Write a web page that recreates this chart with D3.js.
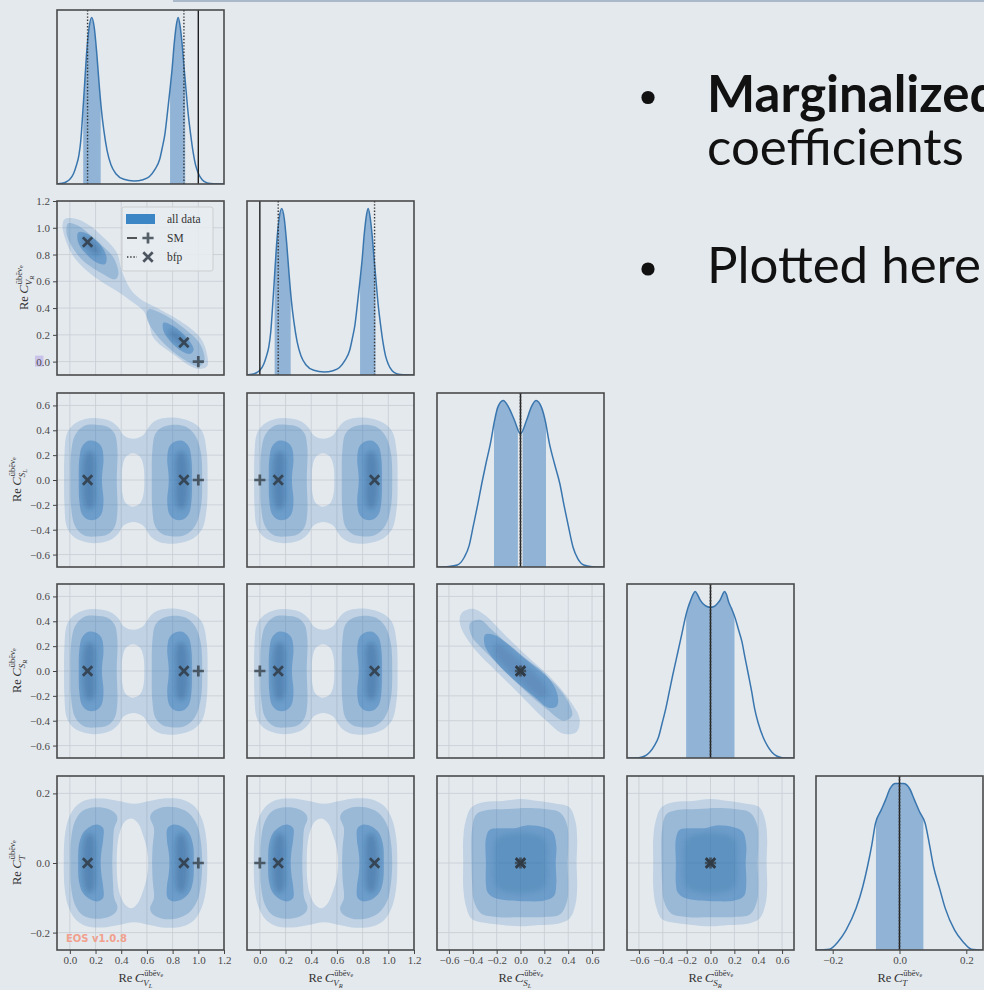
<!DOCTYPE html>
<html><head><meta charset="utf-8">
<script src="https://cdn.jsdelivr.net/npm/d3@7"></script>
<style>
html,body{margin:0;padding:0;background:#e4e9ee;}
svg{display:block;}
</style></head><body>
<svg id="fig" width="984" height="990"></svg>
<script>
// ---- parameters of the corner plot ----
const paramSubs = [["V","L"],["V","R"],["S","L"],["S","R"],["T",""]];
const paramDomains = [[-0.1,1.2],[-0.1,1.2],[-0.7,0.7],[-0.7,0.7],[-0.25,0.25]];
const vTicks = [0,0.2,0.4,0.6,0.8,1.0,1.2];
const sTicks = [-0.6,-0.4,-0.2,0,0.2,0.4,0.6];
const tTicks = [-0.2,0,0.2];
const paramTicks = [vTicks,vTicks,sTicks,sTicks,tTicks];
const smPoint = [1.0,0.0,0.0,0.0,0.0];
const bfpPoints = [[0.138,0.893,0,0,0],[0.888,0.143,0,0,0]];

// ---- 1D marginal densities (x, relative density) ----
const densityVL = [[-0.10,0],[-0.06,0.004],[-0.03,0.012],[0.00,0.028],[0.03,0.065],[0.05,0.11],[0.07,0.17],[0.085,0.26],[0.10,0.42],[0.115,0.6],[0.13,0.78],[0.15,0.94],[0.17,1.0],[0.19,0.94],[0.21,0.78],[0.228,0.6],[0.245,0.45],[0.265,0.32],[0.29,0.2],[0.32,0.115],[0.36,0.06],[0.42,0.028],[0.50,0.018],[0.57,0.026],[0.62,0.045],[0.66,0.085],[0.70,0.15],[0.72,0.22],[0.74,0.30],[0.76,0.43],[0.78,0.57],[0.797,0.70],[0.812,0.84],[0.828,0.95],[0.843,1.0],[0.858,0.95],[0.874,0.84],[0.889,0.70],[0.905,0.56],[0.92,0.43],[0.94,0.30],[0.96,0.19],[0.98,0.11],[1.00,0.065],[1.03,0.025],[1.07,0.006],[1.12,0.001],[1.2,0]];
const densityVR = [[-0.10,0],[-0.06,0.004],[-0.03,0.012],[0.00,0.028],[0.03,0.065],[0.05,0.11],[0.07,0.17],[0.085,0.26],[0.10,0.42],[0.115,0.6],[0.13,0.78],[0.15,0.94],[0.17,1.0],[0.19,0.94],[0.21,0.78],[0.228,0.6],[0.245,0.45],[0.265,0.32],[0.29,0.2],[0.32,0.115],[0.36,0.06],[0.42,0.028],[0.50,0.018],[0.57,0.026],[0.62,0.045],[0.66,0.085],[0.70,0.15],[0.72,0.22],[0.74,0.30],[0.76,0.43],[0.78,0.57],[0.797,0.70],[0.812,0.84],[0.828,0.95],[0.843,1.0],[0.858,0.95],[0.874,0.84],[0.889,0.70],[0.905,0.56],[0.92,0.43],[0.94,0.30],[0.96,0.19],[0.98,0.11],[1.00,0.065],[1.03,0.025],[1.07,0.006],[1.12,0.001],[1.2,0]];
const densitySL = [[-0.7,0],[-0.6,0.003],[-0.53,0.012],[-0.47,0.06],[-0.43,0.13],[-0.395,0.25],[-0.36,0.37],[-0.325,0.5],[-0.29,0.62],[-0.25,0.75],[-0.22,0.87],[-0.19,0.96],[-0.145,1.0],[-0.1,0.96],[-0.05,0.88],[0,0.80],[0.05,0.88],[0.09,0.96],[0.13,1.0],[0.175,0.96],[0.21,0.87],[0.24,0.75],[0.285,0.62],[0.33,0.5],[0.365,0.37],[0.40,0.25],[0.44,0.12],[0.48,0.05],[0.53,0.012],[0.6,0.002],[0.7,0]];
const densitySR = [[-0.7,0],[-0.6,0.002],[-0.55,0.012],[-0.51,0.035],[-0.47,0.075],[-0.436,0.125],[-0.405,0.21],[-0.374,0.30],[-0.345,0.40],[-0.316,0.50],[-0.285,0.60],[-0.254,0.70],[-0.23,0.78],[-0.212,0.84],[-0.19,0.90],[-0.17,0.94],[-0.148,0.98],[-0.128,1.0],[-0.108,0.98],[-0.087,0.95],[-0.06,0.925],[-0.03,0.91],[0,0.905],[0.03,0.91],[0.06,0.93],[0.081,0.95],[0.1,0.98],[0.117,1.0],[0.135,0.98],[0.151,0.94],[0.175,0.90],[0.207,0.84],[0.235,0.77],[0.263,0.70],[0.29,0.60],[0.318,0.50],[0.345,0.40],[0.369,0.30],[0.40,0.21],[0.444,0.12],[0.48,0.07],[0.515,0.035],[0.555,0.012],[0.6,0.002],[0.7,0]];
const densityT = [[-0.25,0],[-0.21,0.005],[-0.184,0.05],[-0.16,0.12],[-0.13,0.25],[-0.11,0.38],[-0.096,0.5],[-0.083,0.63],[-0.072,0.76],[-0.055,0.84],[-0.042,0.9],[-0.028,0.97],[-0.012,1.0],[0.012,1.0],[0.03,0.97],[0.045,0.9],[0.06,0.83],[0.077,0.76],[0.09,0.63],[0.102,0.5],[0.12,0.37],[0.137,0.25],[0.165,0.12],[0.19,0.05],[0.215,0.005],[0.25,0]];
const densities = [densityVL,densityVR,densitySL,densitySR,densityT];

// shaded credible intervals of the marginals
const intervalsVL = [[0.104,0.24],[0.78,0.898]];
const intervalsVR = [[0.115,0.24],[0.78,0.90]];
const intervalsSL = [[-0.222,-0.022],[0.018,0.214]];
const intervalsSR = [[-0.204,0.201]];
const intervalsT = [[-0.0705,0.0715]];
const intervals = [intervalsVL,intervalsVR,intervalsSL,intervalsSR,intervalsT];

// ---- 2D credible regions (vertices in parameter units) ----
// V_L vs V_R
const vvOuter = [[[-0.039,1.065],[0.052,1.065],[0.156,1.015],[0.234,0.953],[0.365,0.815],[0.404,0.678],[0.482,0.528],[0.573,0.453],[0.677,0.403],[0.859,0.303],[1.016,0.178],[1.068,0.053],[1.068,-0.035],[0.99,-0.053],[0.807,0.053],[0.651,0.178],[0.612,0.303],[0.573,0.378],[0.495,0.44],[0.365,0.528],[0.182,0.64],[0.026,0.79],[-0.039,0.928],[-0.057,1.015]]];
const vvMid = [[[-0.013,1.033],[0.065,1.015],[0.208,0.903],[0.339,0.778],[0.378,0.653],[0.352,0.615],[0.26,0.653],[0.104,0.753],[0.013,0.865],[-0.026,0.965]],
               [[0.612,0.39],[0.703,0.365],[0.885,0.253],[1.016,0.128],[1.047,0.003],[1.003,-0.035],[0.911,0.003],[0.755,0.115],[0.651,0.228],[0.599,0.328]]];
const vvInner = [[[0.065,0.965],[0.13,0.958],[0.234,0.878],[0.286,0.778],[0.273,0.728],[0.208,0.74],[0.117,0.815],[0.065,0.89]],
                 [[0.729,0.29],[0.807,0.265],[0.911,0.178],[0.964,0.09],[0.938,0.058],[0.872,0.078],[0.781,0.153],[0.729,0.228]]];
const vvCore = [[[0.1,0.93],[0.16,0.92],[0.22,0.86],[0.24,0.81],[0.2,0.8],[0.14,0.84],[0.1,0.89]],
                [[0.78,0.24],[0.84,0.22],[0.9,0.16],[0.91,0.12],[0.87,0.12],[0.8,0.17],[0.77,0.21]]];
// V vs S
const vsOuter = [[[-0.045,0],[-0.042,0.2],[-0.026,0.363],[0.013,0.43],[0.078,0.476],[0.18,0.498],[0.31,0.476],[0.378,0.423],[0.42,0.358],[0.495,0.331],[0.568,0.358],[0.6,0.404],[0.64,0.457],[0.70,0.49],[0.83,0.5],[0.96,0.46],[1.03,0.39],[1.065,0.23],[1.072,0],[1.065,-0.23],[1.03,-0.395],[0.96,-0.47],[0.83,-0.51],[0.70,-0.5],[0.64,-0.465],[0.6,-0.41],[0.568,-0.365],[0.495,-0.338],[0.42,-0.365],[0.378,-0.43],[0.31,-0.485],[0.18,-0.508],[0.078,-0.485],[0.013,-0.44],[-0.026,-0.37],[-0.042,-0.2]]];
const vsHole = [[[0.405,0],[0.41,0.11],[0.435,0.185],[0.49,0.215],[0.545,0.19],[0.572,0.12],[0.58,0],[0.572,-0.12],[0.545,-0.19],[0.49,-0.215],[0.435,-0.185],[0.41,-0.11]]];
const vsMid = [[[0.005,0],[0.01,0.22],[0.04,0.36],[0.11,0.435],[0.2,0.445],[0.3,0.425],[0.35,0.37],[0.37,0.25],[0.365,0],[0.37,-0.25],[0.35,-0.375],[0.3,-0.435],[0.2,-0.455],[0.11,-0.445],[0.04,-0.37],[0.01,-0.22]],
               [[0.638,0],[0.643,0.25],[0.665,0.37],[0.72,0.425],[0.81,0.445],[0.9,0.43],[0.975,0.36],[1.02,0.22],[1.03,0],[1.02,-0.22],[0.975,-0.37],[0.9,-0.44],[0.81,-0.455],[0.72,-0.435],[0.665,-0.375],[0.643,-0.25]]];
const vsInner = [[[0.07,0],[0.074,0.17],[0.095,0.27],[0.145,0.315],[0.2,0.31],[0.245,0.27],[0.262,0.17],[0.252,0.05],[0.25,0],[0.252,-0.05],[0.262,-0.17],[0.245,-0.275],[0.2,-0.318],[0.145,-0.32],[0.095,-0.275],[0.074,-0.17]],
                 [[0.95,0],[0.946,0.17],[0.925,0.27],[0.875,0.315],[0.82,0.31],[0.775,0.27],[0.758,0.17],[0.768,0.05],[0.77,0],[0.768,-0.05],[0.758,-0.17],[0.775,-0.275],[0.82,-0.318],[0.875,-0.32],[0.925,-0.275],[0.946,-0.17]]];
const vsCore = [[[0.1,0],[0.105,0.15],[0.13,0.22],[0.16,0.23],[0.19,0.2],[0.2,0.1],[0.195,0],[0.2,-0.1],[0.19,-0.2],[0.16,-0.235],[0.13,-0.225],[0.105,-0.15]],
                [[0.92,0],[0.915,0.15],[0.89,0.22],[0.86,0.23],[0.83,0.2],[0.82,0.1],[0.825,0],[0.82,-0.1],[0.83,-0.2],[0.86,-0.235],[0.89,-0.225],[0.915,-0.15]]];
// S_L vs S_R
const ssOuter = [[[-0.49,0.47],[-0.40,0.5],[-0.30,0.45],[-0.13,0.29],[0.065,0.11],[0.26,-0.06],[0.40,-0.22],[0.495,-0.385],[0.47,-0.49],[0.36,-0.505],[0.21,-0.395],[-0.01,-0.185],[-0.21,0.005],[-0.375,0.165],[-0.49,0.33],[-0.51,0.415]]];
const ssMid = [[[-0.423,0.385],[-0.339,0.412],[-0.241,0.332],[-0.087,0.199],[0.109,0.039],[0.278,-0.095],[0.404,-0.255],[0.432,-0.361],[0.362,-0.401],[0.221,-0.308],[-0.003,-0.121],[-0.171,0.039],[-0.325,0.185],[-0.409,0.279]]];
const ssInner = [[[-0.297,0.292],[-0.227,0.292],[-0.115,0.225],[0.053,0.092],[0.221,-0.041],[0.306,-0.175],[0.306,-0.281],[0.235,-0.295],[0.109,-0.201],[-0.059,-0.068],[-0.199,0.065],[-0.297,0.199]]];
const ssCore = [[[-0.2,0.22],[-0.12,0.18],[0.05,0.04],[0.2,-0.1],[0.23,-0.19],[0.16,-0.21],[0.0,-0.08],[-0.16,0.06],[-0.22,0.15]]];
// V vs T
const vtOuter = [[[-0.047,0],[-0.04,0.075],[-0.012,0.125],[0.04,0.16],[0.12,0.18],[0.25,0.185],[0.38,0.178],[0.5,0.17],[0.62,0.178],[0.75,0.186],[0.88,0.182],[0.97,0.163],[1.03,0.125],[1.062,0.07],[1.07,0],[1.062,-0.07],[1.03,-0.125],[0.97,-0.163],[0.88,-0.182],[0.75,-0.186],[0.62,-0.178],[0.5,-0.17],[0.38,-0.178],[0.25,-0.185],[0.12,-0.18],[0.04,-0.16],[-0.012,-0.125],[-0.04,-0.075]]];
const vtHole = [[[0.365,0],[0.37,0.05],[0.39,0.09],[0.43,0.12],[0.48,0.128],[0.53,0.115],[0.57,0.08],[0.6,0.04],[0.61,0],[0.6,-0.04],[0.57,-0.08],[0.53,-0.115],[0.48,-0.13],[0.43,-0.12],[0.39,-0.09],[0.37,-0.05]]];
const vtMid = [[[0.005,0],[0.01,0.07],[0.04,0.12],[0.1,0.15],[0.2,0.16],[0.3,0.155],[0.36,0.14],[0.37,0.125],[0.345,0.1],[0.335,0.05],[0.33,0],[0.335,-0.05],[0.345,-0.1],[0.37,-0.125],[0.36,-0.14],[0.3,-0.155],[0.2,-0.16],[0.1,-0.15],[0.04,-0.12],[0.01,-0.07]],
               [[0.64,0],[0.645,0.05],[0.655,0.1],[0.625,0.13],[0.64,0.145],[0.72,0.16],[0.82,0.16],[0.92,0.145],[0.99,0.11],[1.02,0.06],[1.03,0],[1.02,-0.06],[0.99,-0.11],[0.92,-0.145],[0.82,-0.16],[0.72,-0.16],[0.64,-0.145],[0.625,-0.13],[0.655,-0.1],[0.645,-0.05]]];
const vtInner = [[[0.065,0],[0.07,0.05],[0.1,0.085],[0.16,0.105],[0.22,0.11],[0.26,0.1],[0.26,0.07],[0.245,0.03],[0.24,0],[0.245,-0.03],[0.26,-0.07],[0.26,-0.1],[0.22,-0.11],[0.16,-0.105],[0.1,-0.085],[0.07,-0.05]],
                 [[0.965,0],[0.96,0.05],[0.93,0.085],[0.87,0.105],[0.80,0.11],[0.76,0.1],[0.755,0.07],[0.77,0.03],[0.775,0],[0.77,-0.03],[0.755,-0.07],[0.76,-0.1],[0.8,-0.11],[0.87,-0.105],[0.93,-0.085],[0.96,-0.05]]];
const vtCore = [[[0.1,0],[0.11,0.06],[0.14,0.085],[0.18,0.08],[0.2,0.04],[0.195,0],[0.2,-0.04],[0.18,-0.08],[0.14,-0.085],[0.11,-0.06]],
                [[0.92,0],[0.91,0.06],[0.88,0.085],[0.84,0.08],[0.82,0.04],[0.825,0],[0.82,-0.04],[0.84,-0.08],[0.88,-0.085],[0.91,-0.06]]];
// S vs T
const stOuter = [[[-0.48,0],[-0.48,0.07],[-0.46,0.12],[-0.41,0.16],[-0.3,0.175],[-0.15,0.178],[0.0,0.184],[0.15,0.178],[0.3,0.17],[0.41,0.16],[0.46,0.12],[0.475,0.07],[0.47,0],[0.475,-0.07],[0.46,-0.12],[0.41,-0.16],[0.3,-0.175],[0.15,-0.178],[0,-0.182],[-0.15,-0.178],[-0.3,-0.172],[-0.41,-0.16],[-0.46,-0.12],[-0.48,-0.07]]];
const stMid = [[[-0.41,0],[-0.405,0.1],[-0.37,0.14],[-0.28,0.152],[-0.1,0.155],[0.05,0.158],[0.2,0.155],[0.33,0.145],[0.39,0.11],[0.40,0.05],[0.395,0],[0.40,-0.06],[0.39,-0.11],[0.33,-0.148],[0.2,-0.155],[0,-0.156],[-0.2,-0.155],[-0.33,-0.145],[-0.39,-0.11],[-0.405,-0.06]]];
const stInner = [[[-0.29,0],[-0.29,0.07],[-0.26,0.095],[-0.15,0.1],[-0.05,0.1],[0.05,0.108],[0.2,0.102],[0.27,0.09],[0.3,0.05],[0.295,0],[0.3,-0.06],[0.28,-0.095],[0.2,-0.108],[0.05,-0.11],[-0.1,-0.108],[-0.22,-0.1],[-0.275,-0.085],[-0.29,-0.06]]];
const stCore = [[[-0.22,0],[-0.2,0.07],[-0.08,0.085],[0.08,0.085],[0.2,0.07],[0.22,0],[0.2,-0.07],[0.08,-0.085],[-0.08,-0.085],[-0.2,-0.07]]];

// ---- layout ----
const W = 984, H = 990;
const colX = [57,247,437,627,816];
const rowY = [10,201,393,584,776];
const panelW = 167, panelH = 174;
const serif = "'Liberation Serif','DejaVu Serif',serif";
const tickColor = "#4a4a4a";
const blue = "#3278b9";
const curveColor = "#3a76ae";

const svg = d3.select("#fig");
const defs = svg.append("defs");
defs.append("filter").attr("id","soft").attr("x","-30%").attr("y","-30%").attr("width","160%").attr("height","160%")
  .append("feGaussianBlur").attr("stdDeviation",2.5);

svg.append("rect").attr("width",W).attr("height",H).attr("fill","#e4e9ee");
// slide header rule
svg.append("rect").attr("x",173).attr("y",0).attr("width",W-173).attr("height",2).attr("fill","#a9b9c9");

function shapesFor(i,j){
  if (i===1 && j===0) return {outer:vvOuter, holes:[], mid:vvMid, inner:vvInner, core:vvCore, coreOp:0.3};
  if ((i===2||i===3) && j<2) return {outer:vsOuter, holes:vsHole, mid:vsMid, inner:vsInner, core:vsCore, coreOp:0.3};
  if (i===3 && j===2) return {outer:ssOuter, holes:[], mid:ssMid, inner:ssInner, core:ssCore, coreOp:0.18};
  if (i===4 && j<2) return {outer:vtOuter, holes:vtHole, mid:vtMid, inner:vtInner, core:vtCore, coreOp:0.3};
  return {outer:stOuter, holes:[], mid:stMid, inner:stInner, core:stCore, coreOp:0.14};
}

function mathLabel(parent, sub, subsub){
  const g = parent.append("g");
  const base = g.append("text").attr("font-family",serif).attr("font-size",12.5).attr("fill","#333");
  base.append("tspan").text("Re\u2009");
  base.append("tspan").attr("font-style","italic").attr("font-size",13.5).text("C");
  const w1 = base.node().getComputedTextLength();
  const sup = g.append("text").attr("font-family",serif).attr("font-size",8.5).attr("fill","#333")
    .attr("x",w1+0.5).attr("y",-6.5);
  sup.append("tspan").text("ūbēν");
  sup.append("tspan").attr("font-size",6).attr("dy",1.8).text("e");
  const sb = g.append("text").attr("font-family",serif).attr("font-size",9).attr("font-style","italic").attr("fill","#333")
    .attr("x",w1-0.5).attr("y",4);
  sb.append("tspan").text(sub);
  if (subsub) sb.append("tspan").attr("font-size",6.5).attr("dy",1.8).text(subsub);
  const w = w1 + Math.max(sup.node().getComputedTextLength(), sb.node().getComputedTextLength());
  g.selectAll("text").attr("transform",`translate(${-w/2},0)`);
  return g;
}

function styleAxis(g){
  g.select(".domain").remove();
  g.selectAll(".tick line").attr("stroke","#444").attr("stroke-width",1);
  g.selectAll(".tick text").attr("font-family",serif).attr("font-size",11).attr("fill",tickColor);
}

const fmt = d3.format(".1f");

function crossPath(px,py,s){ return `M${px-s},${py}H${px+s}M${px},${py-s}V${py+s}`; }
function timesPath(px,py,s){ return `M${px-s},${py-s}L${px+s},${py+s}M${px-s},${py+s}L${px+s},${py-s}`; }

for (let i=0;i<5;i++){
  for (let j=0;j<=i;j++){
    const x0 = colX[j], y0 = rowY[i];
    const g = svg.append("g");
    const cid = `clip-${i}-${j}`;
    defs.append("clipPath").attr("id",cid).append("rect").attr("x",x0).attr("y",y0).attr("width",panelW).attr("height",panelH);
    const xs = d3.scaleLinear(paramDomains[j],[x0,x0+panelW]);
    const body = g.append("g").attr("clip-path",`url(#${cid})`);

    if (i===j){
      const dens = densities[j];
      const ys = d3.scaleLinear([0, d3.max(dens,d=>d[1])*1.045],[y0+panelH,y0]);
      const area = d3.area().x(d=>xs(d[0])).y0(ys(0)).y1(d=>ys(d[1])).curve(d3.curveMonotoneX);
      const line = d3.line().x(d=>xs(d[0])).y(d=>ys(d[1])).curve(d3.curveMonotoneX);
      const bid = `band-${j}`;
      const bc = defs.append("clipPath").attr("id",bid);
      intervals[j].forEach(iv=>{
        bc.append("rect").attr("x",xs(iv[0])).attr("y",y0).attr("width",xs(iv[1])-xs(iv[0])).attr("height",panelH);
      });
      body.append("path").attr("d",area(dens)).attr("fill",blue).attr("fill-opacity",0.47).attr("clip-path",`url(#${bid})`);
      body.append("path").attr("d",line(dens)).attr("fill","none").attr("stroke",curveColor).attr("stroke-width",1.5);
      body.append("line").attr("x1",xs(smPoint[j])).attr("x2",xs(smPoint[j])).attr("y1",y0).attr("y2",y0+panelH)
        .attr("stroke","#1e1e1e").attr("stroke-width",1.4);
      bfpPoints.forEach(p=>{
        body.append("line").attr("x1",xs(p[j])).attr("x2",xs(p[j])).attr("y1",y0).attr("y2",y0+panelH)
          .attr("stroke","#333").attr("stroke-width",1.4).attr("stroke-dasharray","1.4,1.8");
      });
    } else {
      const ys = d3.scaleLinear(paramDomains[i],[y0+panelH,y0]);
      // grid
      paramTicks[j].forEach(t=>{
        body.append("line").attr("x1",xs(t)).attr("x2",xs(t)).attr("y1",y0).attr("y2",y0+panelH)
          .attr("stroke","#c9cfd6").attr("stroke-width",0.9);
      });
      paramTicks[i].forEach(t=>{
        body.append("line").attr("y1",ys(t)).attr("y2",ys(t)).attr("x1",x0).attr("x2",x0+panelW)
          .attr("stroke","#c9cfd6").attr("stroke-width",0.9);
      });
      const shp = shapesFor(i,j);
      const ring = d3.line().x(d=>xs(d[0])).y(d=>ys(d[1])).curve(d3.curveCatmullRomClosed.alpha(0.5));
      body.append("path").attr("d", shp.outer.map(ring).join("") + shp.holes.map(ring).join(""))
        .attr("fill-rule","evenodd").attr("fill",blue).attr("fill-opacity",0.2);
      body.append("path").attr("d", shp.mid.map(ring).join("")).attr("fill",blue).attr("fill-opacity",0.27);
      body.append("path").attr("d", shp.inner.map(ring).join("")).attr("fill",blue).attr("fill-opacity",0.43);
      body.append("path").attr("d", shp.core.map(ring).join("")).attr("fill","#1d4f80").attr("fill-opacity",shp.coreOp)
        .attr("filter","url(#soft)");
      // markers: SM (+) and best-fit points (x)
      body.append("path").attr("d",crossPath(xs(smPoint[j]),ys(smPoint[i]),5.6))
        .attr("stroke","#3b4650").attr("stroke-width",2.7).attr("stroke-opacity",0.85).attr("fill","none");
      bfpPoints.forEach(p=>{
        body.append("path").attr("d",timesPath(xs(p[j]),ys(p[i]),4.7))
          .attr("stroke","#2f3a44").attr("stroke-width",2.7).attr("stroke-opacity",0.85).attr("fill","none");
      });
    }

    // frame
    g.append("rect").attr("x",x0).attr("y",y0).attr("width",panelW).attr("height",panelH)
      .attr("fill","none").attr("stroke","#4a4a4a").attr("stroke-width",1.6);

    // y axis on first column (below the diagonal)
    if (j===0 && i>0){
      const ys = d3.scaleLinear(paramDomains[i],[y0+panelH,y0]);
      if (i===1){
        svg.append("rect").attr("x",35).attr("y",ys(0)-6).attr("width",8.5).attr("height",11).attr("fill","#c9c3ea");
      }
      const ax = svg.append("g").attr("transform",`translate(${x0},0)`)
        .call(d3.axisLeft(ys).tickValues(paramTicks[i]).tickFormat(fmt).tickSize(4).tickPadding(3));
      styleAxis(ax);
      const lx = i===1 ? 28 : 21;
      const lab = svg.append("g").attr("transform",`translate(${lx},${y0+panelH/2}) rotate(-90)`);
      mathLabel(lab, paramSubs[i][0], paramSubs[i][1]);
    }
    // x axis on last row
    if (i===4){
      const ax = svg.append("g").attr("transform",`translate(0,${y0+panelH})`)
        .call(d3.axisBottom(xs).tickValues(paramTicks[j]).tickFormat(fmt).tickSize(4).tickPadding(2));
      styleAxis(ax);
      const lab = svg.append("g").attr("transform",`translate(${x0+panelW/2},982)`);
      mathLabel(lab, paramSubs[j][0], paramSubs[j][1]);
    }
  }
}

// legend in the V_L / V_R panel
const lg = svg.append("g");
lg.append("rect").attr("x",122).attr("y",207).attr("width",91).attr("height",64).attr("rx",2)
  .attr("fill","#e8ecf0").attr("fill-opacity",0.85).attr("stroke","#c8c8c8").attr("stroke-width",0.8);
lg.append("rect").attr("x",126).attr("y",214).attr("width",29).attr("height",10).attr("fill","#3d86c6");
lg.append("line").attr("x1",127).attr("x2",137).attr("y1",238).attr("y2",238).attr("stroke","#222").attr("stroke-width",1.5);
lg.append("path").attr("d",crossPath(148,238,5.6)).attr("stroke","#3b4650").attr("stroke-width",2.7).attr("stroke-opacity",0.85);
lg.append("line").attr("x1",127).attr("x2",137).attr("y1",257).attr("y2",257).attr("stroke","#333").attr("stroke-width",1.4).attr("stroke-dasharray","1.4,1.8");
lg.append("path").attr("d",timesPath(148,257,4.7)).attr("stroke","#2f3a44").attr("stroke-width",2.7).attr("stroke-opacity",0.85);
[["all data",223],["SM",242],["bfp",261]].forEach(([t,yy])=>{
  lg.append("text").attr("x",167).attr("y",yy).attr("font-family",serif).attr("font-size",11.5).attr("fill","#333").text(t);
});

// software tag
svg.append("text").attr("x",66).attr("y",942).attr("font-family","'DejaVu Sans',sans-serif").attr("font-weight",700)
  .attr("font-size",10).attr("fill","#f0a08c").text("EOS v1.0.8");

// slide text
const lato = "Lato,'Open Sans',sans-serif";
svg.append("circle").attr("cx",648).attr("cy",97.5).attr("r",6.6).attr("fill","#111");
svg.append("circle").attr("cx",648).attr("cy",269).attr("r",6.6).attr("fill","#111");
svg.append("text").attr("x",707).attr("y",112).attr("font-family",lato).attr("font-weight",700).attr("font-size",51).attr("fill","#111").text("Marginalized");
svg.append("text").attr("x",707).attr("y",165).attr("font-family",lato).attr("font-size",51).attr("fill","#111").text("coefficients");
svg.append("text").attr("x",707).attr("y",283).attr("font-family",lato).attr("font-size",51).attr("fill","#111").text("Plotted here");
</script>
</body></html>
